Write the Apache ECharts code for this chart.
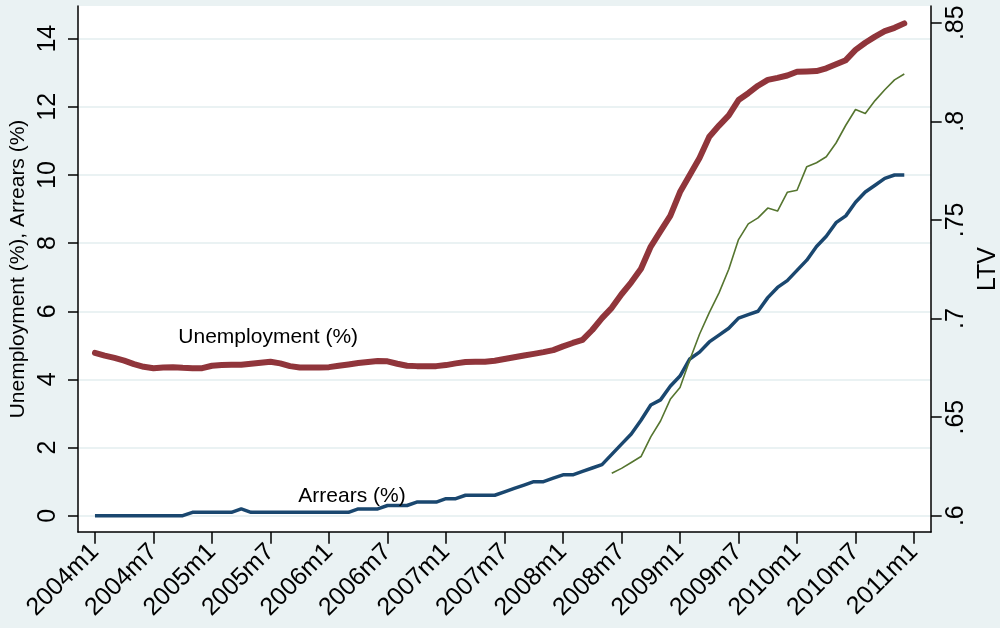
<!DOCTYPE html>
<html>
<head>
<meta charset="utf-8">
<script src="https://cdn.jsdelivr.net/npm/echarts@6/dist/echarts.min.js"></script>
<style>
  html, body { margin: 0; padding: 0; background: #eaf2f3; }
  #main { width: 1000px; height: 628px; }
</style>
</head>
<body>
<div id="main"></div>
<script>
// monthly series, 2004m1 .. 2010m12
const startYear = 2004;
const unemployment = [
  4.78, 4.70, 4.63, 4.55, 4.45, 4.37, 4.33, 4.35, 4.36, 4.34, 4.33, 4.33,
  4.40, 4.42, 4.43, 4.43, 4.46, 4.49, 4.52, 4.47, 4.39, 4.35, 4.35, 4.35,
  4.36, 4.40, 4.44, 4.48, 4.51, 4.54, 4.53, 4.46, 4.40, 4.39, 4.39, 4.39,
  4.42, 4.47, 4.51, 4.52, 4.52, 4.55, 4.60, 4.65, 4.70, 4.75, 4.80, 4.86,
  4.97, 5.07, 5.16, 5.45, 5.80, 6.10, 6.50, 6.85, 7.25, 7.90, 8.35, 8.80,
  9.50, 10.00, 10.50, 11.12, 11.45, 11.75, 12.20, 12.40, 12.62, 12.79, 12.85, 12.92,
  13.03, 13.04, 13.05, 13.13, 13.25, 13.37, 13.67, 13.88, 14.06, 14.22, 14.32, 14.45
];
const arrears = [
  0, 0, 0, 0, 0, 0, 0, 0, 0, 0, 0.1, 0.1,
  0.1, 0.1, 0.1, 0.2, 0.1, 0.1, 0.1, 0.1, 0.1, 0.1, 0.1, 0.1,
  0.1, 0.1, 0.1, 0.2, 0.2, 0.2, 0.3, 0.3, 0.3, 0.4, 0.4, 0.4,
  0.5, 0.5, 0.6, 0.6, 0.6, 0.6, 0.7, 0.8, 0.9, 1.0, 1.0, 1.1,
  1.2, 1.2, 1.3, 1.4, 1.5, 1.8, 2.1, 2.4, 2.8, 3.25, 3.4, 3.8,
  4.1, 4.6, 4.8, 5.1, 5.3, 5.5, 5.8, 5.9, 6.0, 6.4, 6.7, 6.9,
  7.2, 7.5, 7.9, 8.2, 8.6, 8.8, 9.2, 9.5, 9.7, 9.9, 10.0, 10.0
];
// LTV starts in 2008m6
const ltvStart = '2008m6';
const ltv = [
  0.6215, 0.624, 0.627, 0.630, 0.640, 0.648, 0.659,
  0.665, 0.679, 0.692, 0.703, 0.713, 0.725, 0.740, 0.748, 0.751, 0.756, 0.7545, 0.764,
  0.765, 0.777, 0.779, 0.782, 0.789, 0.798, 0.806, 0.804, 0.8105, 0.816, 0.821, 0.824
];
const xTickLabels = ['2004m1', '2004m7', '2005m1', '2005m7', '2006m1', '2006m7', '2007m1',
  '2007m7', '2008m1', '2008m7', '2009m1', '2009m7', '2010m1', '2010m7', '2011m1'];

const font = '"Liberation Sans", Arial, sans-serif';
const red = '#90353b', blue = '#1a476f', green = '#55752f';
const bg = '#eaf2f3';

function monthIndex(label) {
  let [y, m] = label.split('m').map(Number);
  return (y - startYear) * 12 + m - 1;
}
function monthLabel(i) {
  return (startYear + Math.floor(i / 12)) + 'm' + (i % 12 + 1);
}

const xMin = -1.74, xMax = 85.74;
const xTicks = xTickLabels.map(monthIndex);
const ltvOffset = monthIndex(ltvStart);

let chart = echarts.init(document.getElementById('main'), null, { renderer: 'canvas' });

let frameLine = { show: true, onZero: false, lineStyle: { color: '#000', width: 1.5 } };
let noLine = { show: false, onZero: false };
let hidden = { show: false };

let option = {
  animation: false,
  backgroundColor: bg,
  textStyle: { fontFamily: font },
  grid: [
    // plot frame
    { left: 78, right: 69, top: 6, bottom: 96, show: true, backgroundColor: '#fff', borderWidth: 0, outerBoundsMode: 'none' },
    // percent axis
    { left: 78, right: 69, top: 38.7, bottom: 112.3, outerBoundsMode: 'none' },
    // LTV axis
    { left: 78, right: 69, top: 22.7, bottom: 112.3, outerBoundsMode: 'none' }
  ],
  xAxis: [
    { gridIndex: 0, type: 'value', min: 0, max: 1, axisLine: frameLine, axisTick: hidden, axisLabel: hidden, splitLine: hidden },
    {
      gridIndex: 1, type: 'value', min: xMin, max: xMax, position: 'bottom', offset: 16.3,
      axisLine: noLine,
      axisTick: { show: true, length: 11.7, customValues: xTicks, lineStyle: { color: '#000', width: 1.5 } },
      axisLabel: {
        customValues: xTicks, rotate: 45, margin: 16, color: '#000', fontSize: 25, fontFamily: font,
        formatter: v => monthLabel(Math.round(v))
      },
      splitLine: hidden
    },
    { gridIndex: 2, type: 'value', min: xMin, max: xMax, show: false }
  ],
  yAxis: [
    {
      gridIndex: 0, type: 'value', position: 'left', min: 0, max: 1,
      axisLine: frameLine, axisTick: hidden, axisLabel: hidden, splitLine: hidden,
      name: 'Unemployment (%), Arrears (%)', nameLocation: 'middle', nameGap: 49,
      nameTextStyle: { color: '#000', fontSize: 21, fontFamily: font }
    },
    {
      gridIndex: 0, type: 'value', position: 'right', min: 0, max: 1,
      axisLine: frameLine, axisTick: hidden, axisLabel: hidden, splitLine: hidden,
      name: 'LTV', nameLocation: 'middle', nameGap: 44.7, nameRotate: 90,
      nameTextStyle: { color: '#000', fontSize: 25, fontFamily: font }
    },
    {
      gridIndex: 1, type: 'value', position: 'left', min: 0, max: 14, interval: 2,
      axisLine: noLine,
      axisTick: { show: true, length: 10, lineStyle: { color: '#000', width: 1.5 } },
      axisLabel: { rotate: 90, margin: 17.5, color: '#000', fontSize: 25, fontFamily: font },
      splitLine: { show: true, lineStyle: { color: bg, width: 2 } }
    },
    {
      gridIndex: 2, type: 'value', position: 'right', min: 0.6, max: 0.85, interval: 0.05,
      axisLine: noLine,
      axisTick: { show: true, length: 10.7, lineStyle: { color: '#000', width: 1.5 } },
      axisLabel: {
        rotate: 90, margin: 12.7, color: '#000', fontSize: 25, fontFamily: font,
        formatter: v => v.toFixed(2).replace(/0$/, '').replace(/^0/, '')
      },
      splitLine: hidden
    }
  ],
  series: [
    {
      name: 'Arrears (%)', type: 'line', xAxisIndex: 1, yAxisIndex: 2, symbol: 'none', clip: false,
      data: arrears.map((v, i) => [i, v]),
      lineStyle: { color: blue, width: 3.5, join: 'round' },
      markPoint: {
        silent: true, symbol: 'rect', symbolSize: 1, itemStyle: { color: 'rgba(0,0,0,0)' },
        label: { show: true, position: 'right', distance: 0, formatter: 'Arrears (%)', color: '#000', fontSize: 21, fontFamily: font },
        data: [{ coord: [20.8, 0.58] }]
      }
    },
    {
      name: 'LTV', type: 'line', xAxisIndex: 2, yAxisIndex: 3, symbol: 'none', clip: false,
      data: ltv.map((v, i) => [ltvOffset + i, v]),
      lineStyle: { color: green, width: 1.6, join: 'round' }
    },
    {
      name: 'Unemployment (%)', type: 'line', xAxisIndex: 1, yAxisIndex: 2, symbol: 'none', clip: false,
      data: unemployment.map((v, i) => [i, v]),
      lineStyle: { color: red, width: 6, cap: 'round', join: 'round' },
      markPoint: {
        silent: true, symbol: 'rect', symbolSize: 1, itemStyle: { color: 'rgba(0,0,0,0)' },
        label: { show: true, position: 'right', distance: 0, formatter: 'Unemployment (%)', color: '#000', fontSize: 21, fontFamily: font },
        data: [{ coord: [8.5, 5.25] }]
      }
    }
  ]
};

chart.setOption(option);
</script>
</body>
</html>
